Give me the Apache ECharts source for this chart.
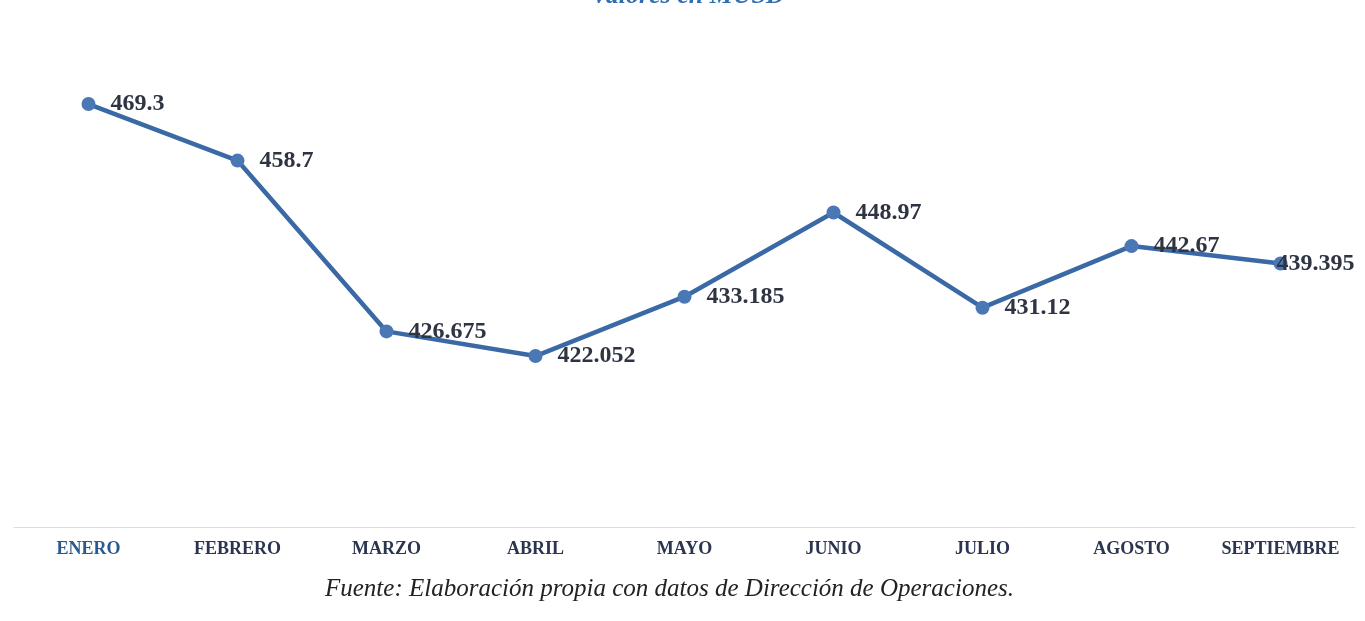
<!DOCTYPE html>
<html>
<head>
<meta charset="utf-8">
<script src="https://cdn.jsdelivr.net/npm/echarts@6/dist/echarts.min.js"></script>
<style>
html,body{margin:0;padding:0;background:#fff;}
#c{width:1365px;height:621px;}
</style>
</head>
<body>
<div id="c"></div>
<script>
const categories = ['ENERO','FEBRERO','MARZO','ABRIL','MAYO','JUNIO','JULIO','AGOSTO','SEPTIEMBRE'];
const values = [469.3, 458.7, 426.675, 422.052, 433.185, 448.97, 431.12, 442.67, 439.395];
const titleText = 'Valores en MUSD';
const sourceText = 'Fuente: Elaboración propia con datos de Dirección de Operaciones.';

const chart = echarts.init(document.getElementById('c'));
const seriesData = values.map(function(v, i){
  return i === values.length - 1 ? {value: v, label: {distance: -11}} : v;
});
chart.setOption({
  backgroundColor: '#ffffff',
  animation: false,
  grid: {left: 14, right: 10, top: 15, bottom: 94},
  xAxis: {
    type: 'category',
    data: categories,
    boundaryGap: true,
    axisLine: {show: true, lineStyle: {color: '#dcdcdc', width: 1}},
    axisTick: {show: false},
    axisLabel: {
      interval: 0,
      margin: 13,
      fontFamily: 'Liberation Serif', fontWeight: 'bold', fontSize: 18, color: '#2b3550',
      formatter: function(v, i){ return i === 0 ? '{a|' + v + '}' : v; },
      rich: {a: {fontFamily: 'Liberation Serif', fontWeight: 'bold', fontSize: 18, color: '#2a5a8c'}}
    }
  },
  yAxis: {
    type: 'value', min: 390, max: 486,
    show: false,
    splitLine: {show: false}
  },
  series: [{
    type: 'line',
    data: seriesData,
    symbol: 'circle',
    symbolSize: 14,
    lineStyle: {color: '#3a69a6', width: 4.5},
    itemStyle: {color: '#4a78b4'},
    label: {
      show: true, position: 'right', distance: 15,
      fontFamily: 'Liberation Serif', fontWeight: 'bold', fontSize: 24, color: '#2e3442'
    }
  }],
  graphic: [{
    type: 'text', x: 688, y: 9,
    style: {text: titleText, textAlign: 'center', textVerticalAlign: 'bottom',
            font: 'italic bold 26px "Liberation Serif"', fill: '#2f6fb0'}
  }, {
    type: 'text', left: 325, top: 577,
    style: {text: sourceText, font: 'italic 25px "Liberation Serif"', fill: '#222'}
  }]
});
</script>
</body>
</html>
